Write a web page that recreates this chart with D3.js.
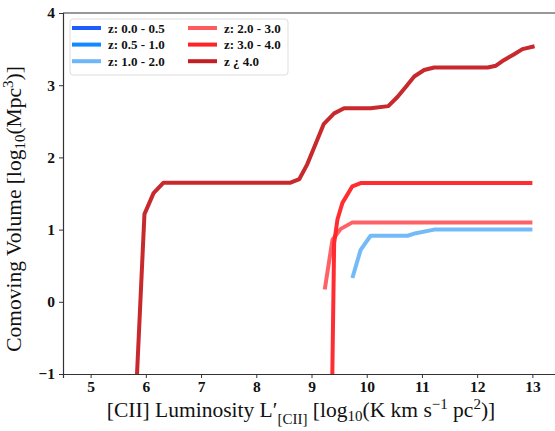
<!DOCTYPE html>
<html>
<head>
<meta charset="utf-8">
<script src="https://cdn.jsdelivr.net/npm/d3@7"></script>
<style>
  body { margin: 0; background: #fff; }
  svg { display: block; }
</style>
</head>
<body>
<svg id="chart" width="555" height="431"></svg>
<script>
// ---- data ----
const seriesNames = ["z: 0.0 - 0.5", "z: 0.5 - 1.0", "z: 1.0 - 2.0", "z: 2.0 - 3.0", "z: 3.0 - 4.0", "z ¿ 4.0"];
const seriesColors = ["#1f5cff", "#0f8aff", "#6db6f8", "#ff5a5e", "#ff2226", "#c41e22"];

const z00_05 = [];
const z05_10 = [];
const z10_20 = [[9.74,0.33],[9.89,0.72],[10.07,0.915],[10.74,0.915],[10.89,0.95],[11.22,1.0],[13.0,1.0]];
const z20_30 = [[9.24,0.17],[9.38,0.86],[9.53,1.01],[9.74,1.10],[13.0,1.10]];
const z30_40 = [[9.35,-2.5],[9.41,0.81],[9.47,1.14],[9.56,1.37],[9.74,1.60],[9.89,1.645],[13.0,1.645]];
const z40_up = [[5.81,-1.5],[5.975,1.215],[6.14,1.505],[6.32,1.65],[8.62,1.65],[8.78,1.70],[8.92,1.90],
                [9.07,2.18],[9.22,2.46],[9.41,2.61],[9.59,2.68],[10.07,2.68],[10.39,2.71],[10.56,2.84],
                [10.71,2.98],[10.86,3.12],[11.04,3.21],[11.22,3.245],[12.19,3.245],[12.34,3.27],[12.49,3.35],
                [12.67,3.43],[12.82,3.50],[13.04,3.54]];
const seriesData = [z00_05, z05_10, z10_20, z20_30, z30_40, z40_up];

const xTicks = [5,6,7,8,9,10,11,12,13];
const yTicks = [-1,0,1,2,3,4];

// ---- layout ----
const svg = d3.select("#chart");
const mL = 63, mT = 13, mR = 560, mB = 374;
const x = d3.scaleLinear().domain([4.5, 13.5]).range([mL, mR]);
const y = d3.scaleLinear().domain([-1, 4]).range([mB, mT]);

svg.append("defs").append("clipPath").attr("id","clip")
  .append("rect").attr("x", mL).attr("y", mT).attr("width", mR-mL).attr("height", mB-mT);

const line = d3.line().x(d => x(d[0])).y(d => y(d[1]));
const g = svg.append("g").attr("clip-path","url(#clip)");
seriesData.forEach((s, i) => {
  if (!s.length) return;
  g.append("path").datum(s).attr("d", line)
    .attr("fill","none").attr("stroke", seriesColors[i])
    .attr("stroke-width", 4).attr("stroke-opacity", 0.95)
    .attr("stroke-linejoin","round").attr("stroke-linecap","butt");
});

// axes
const fontSerif = "'Liberation Serif', 'DejaVu Serif', serif";
const xAxis = svg.append("g").attr("transform", `translate(0,${mB})`)
  .call(d3.axisBottom(x).tickValues(xTicks).tickSize(4).tickPadding(3).tickFormat(d3.format("d")));
const yAxis = svg.append("g").attr("transform", `translate(${mL},0)`)
  .call(d3.axisLeft(y).tickValues(yTicks).tickSize(4).tickPadding(4).tickFormat(d => d < 0 ? "\u2212" + Math.abs(d) : d));
[xAxis, yAxis].forEach(a => {
  a.selectAll("text").attr("font-family", fontSerif).attr("font-size", 15.5).attr("font-weight", "bold").attr("fill","#111");
  a.select(".domain").attr("stroke","#333").attr("stroke-width",1.2);
  a.selectAll(".tick line").attr("stroke","#333");
});
// top spine
svg.append("line").attr("x1", mL).attr("x2", mR).attr("y1", mT).attr("y2", mT)
  .attr("stroke","#333").attr("stroke-width",1.2);

// legend
const lg = svg.append("g");
lg.append("rect").attr("x", 70).attr("y", 19).attr("width", 218).attr("height", 56)
  .attr("rx", 3).attr("fill","#fff").attr("stroke","#ddd").attr("stroke-width",1);
seriesNames.forEach((n, i) => {
  const col = Math.floor(i / 3), row = i % 3;
  const lx = 72 + col * 116, ly = 28 + row * 16.6;
  lg.append("line").attr("x1", lx).attr("x2", lx + 29).attr("y1", ly).attr("y2", ly)
    .attr("stroke", seriesColors[i]).attr("stroke-width", 4);
  lg.append("text").attr("x", lx + 36).attr("y", ly + 4.5).text(n)
    .attr("font-family", fontSerif).attr("font-size", 13).attr("font-weight","bold").attr("fill","#111");
});

// axis titles
const xt = svg.append("text").attr("x", 301).attr("y", 417).attr("text-anchor","middle")
  .attr("font-family", fontSerif).attr("font-size", 21.5).attr("fill","#111");
xt.append("tspan").text("[CII] Luminosity L\u2032");
xt.append("tspan").attr("dy", 7).attr("font-size", 15).text("[CII]");
xt.append("tspan").attr("dy", -7).text(" [log");
xt.append("tspan").attr("dy", 4).attr("font-size", 15).text("10");
xt.append("tspan").attr("dy", -4).text("(K km s");
xt.append("tspan").attr("dy", -8).attr("font-size", 15).text("\u22121");
xt.append("tspan").attr("dy", 8).text(" pc");
xt.append("tspan").attr("dy", -8).attr("font-size", 15).text("2");
xt.append("tspan").attr("dy", 8).text(")]");

const yt = svg.append("text").attr("transform", "translate(21,209) rotate(-90)").attr("text-anchor","middle")
  .attr("font-family", fontSerif).attr("font-size", 21.5).attr("fill","#111");
yt.append("tspan").text("Comoving Volume [log");
yt.append("tspan").attr("dy", 4).attr("font-size", 15).text("10");
yt.append("tspan").attr("dy", -4).text("(Mpc");
yt.append("tspan").attr("dy", -8).attr("font-size", 15).text("3");
yt.append("tspan").attr("dy", 8).text(")]");
</script>
</body>
</html>
